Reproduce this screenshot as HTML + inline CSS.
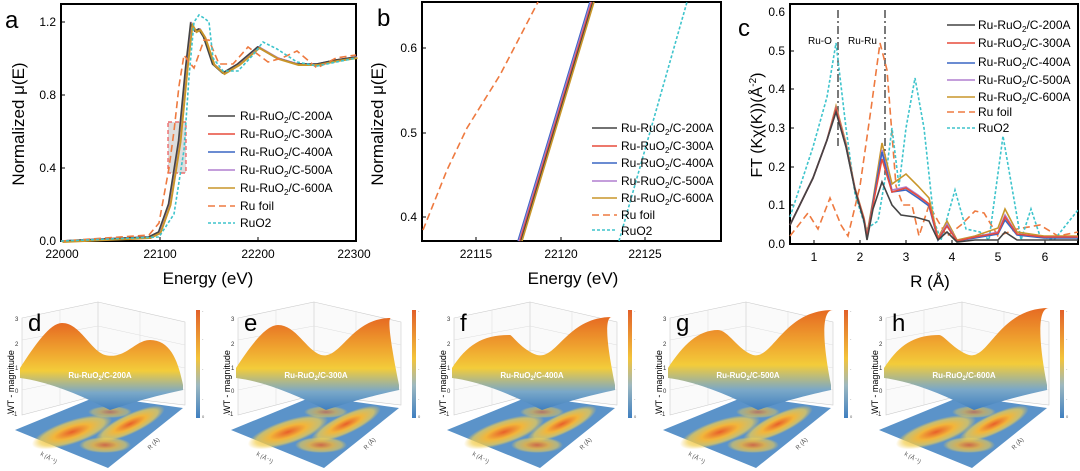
<!DOCTYPE html>
<html><head><meta charset="utf-8"><style>
body{margin:0;background:#fff;}
svg{display:block;font-family:"Liberation Sans",sans-serif;}
</style></head><body>
<svg id="s" width="1080" height="471" viewBox="0 0 1080 471" xmlns="http://www.w3.org/2000/svg">
<defs>
<linearGradient id="surf" x1="0" y1="0" x2="0" y2="1">
<stop offset="0" stop-color="#e66a22"/><stop offset="0.35" stop-color="#f0a830"/><stop offset="0.55" stop-color="#f3cc3a"/><stop offset="0.8" stop-color="#7aa8c8"/><stop offset="1" stop-color="#3f7fc0"/>
</linearGradient>
<linearGradient id="cb" x1="0" y1="0" x2="0" y2="1">
<stop offset="0" stop-color="#e2602a"/><stop offset="0.45" stop-color="#f3c43a"/><stop offset="0.7" stop-color="#9cb8c0"/><stop offset="1" stop-color="#3f7fc0"/>
</linearGradient>
<radialGradient id="blob"><stop offset="0" stop-color="#e8602a"/><stop offset="0.45" stop-color="#f2b53a"/><stop offset="0.8" stop-color="#f2cf50" stop-opacity="0.7"/><stop offset="1" stop-color="#f2c84a" stop-opacity="0"/></radialGradient>
</defs>
<!-- Panel a -->
<g fill="none" stroke-width="1.6">
<text x="5" y="28" font-size="24" fill="#000" stroke="none">a</text>
<rect x="61" y="4" width="295" height="237" stroke="#000" stroke-width="2"/>
<g font-size="12" fill="#000" stroke="none" text-anchor="end">
<text x="56" y="245">0.0</text><text x="56" y="172">0.4</text><text x="56" y="99">0.8</text><text x="56" y="26">1.2</text></g>
<g font-size="12" fill="#000" stroke="none" text-anchor="middle">
<text x="62" y="258">22000</text><text x="160" y="258">22100</text><text x="258" y="258">22200</text><text x="354" y="258">22300</text>
<text x="208" y="284" font-size="17">Energy (eV)</text>
<text transform="translate(24,124) rotate(-90)" font-size="17">Normalized μ(E)</text></g>
<g stroke="#000" stroke-width="1"><path d="M61 168h4M61 95h4M61 22h4M160 241v-4M258 241v-4"/></g>
<rect x="168" y="122" width="18" height="51" fill="#ddd" stroke="#e55" stroke-dasharray="4 3" stroke-width="1.2"/>
<path d="M61 241 L149 237 L159 232 L169 204 L179 141 L186 68 L191 24 L195 31 L199 29 L204 37 L213 64 L223 73 L238 64 L258 47 L277 58 L297 64 L317 64 L336 60 L356 57" stroke="#e74c3c"/>
<path d="M61 241 L149 237 L159 232 L169 204 L179 141 L186 68 L191 24 L195 31 L199 29 L204 37 L213 64 L223 73 L238 64 L258 47 L277 58 L297 64 L317 64 L336 60 L356 57" stroke="#3a66c4" transform="translate(0.5,0)"/>
<path d="M61 241 L149 237 L159 232 L169 204 L179 141 L186 68 L191 24 L195 31 L199 29 L204 37 L213 64 L223 73 L238 64 L258 47 L277 58 L297 64 L317 64 L336 60 L356 57" stroke="#b07fcf" transform="translate(1,0)"/>
<path d="M61 241 L149 237 L159 232 L169 204 L179 141 L186 68 L191 24 L195 31 L199 29 L204 37 L213 64 L223 73 L238 64 L258 47 L277 58 L297 64 L317 64 L336 60 L356 57" stroke="#444" transform="translate(-0.5,0)"/>
<path d="M61 241 L149 237 L159 232 L169 204 L179 141 L186 68 L191 24 L195 31 L199 29 L204 37 L213 64 L223 73 L238 64 L258 47 L277 58 L297 64 L317 64 L336 60 L356 57" stroke="#c9962a" stroke-width="2" transform="translate(1.5,1)"/>
<path d="M61 241 L149 235 L159 223 L169 168 L174 131 L179 86 L184 55 L189 62 L194 68 L204 40 L209 40 L219 64 L233 64 L248 47 L268 62 L282 58 L297 51 L317 68 L336 58 L356 55" stroke="#ee7a40" stroke-dasharray="7 4"/>
<path d="M61 241 L159 237 L174 214 L184 150 L189 77 L194 22 L199 15 L204 18 L209 22 L213 58 L223 71 L238 71 L253 55 L263 42 L277 49 L297 62 L317 66 L356 58" stroke="#3ec4cc" stroke-dasharray="3 2"/>
<g font-size="12" fill="#000" stroke="none">
<text x="240" y="120">Ru-RuO<tspan font-size="8" dy="3">2</tspan><tspan dy="-3">/C-200A</tspan></text>
<text x="240" y="138">Ru-RuO<tspan font-size="8" dy="3">2</tspan><tspan dy="-3">/C-300A</tspan></text>
<text x="240" y="156">Ru-RuO<tspan font-size="8" dy="3">2</tspan><tspan dy="-3">/C-400A</tspan></text>
<text x="240" y="174">Ru-RuO<tspan font-size="8" dy="3">2</tspan><tspan dy="-3">/C-500A</tspan></text>
<text x="240" y="192">Ru-RuO<tspan font-size="8" dy="3">2</tspan><tspan dy="-3">/C-600A</tspan></text>
<text x="240" y="210">Ru foil</text><text x="240" y="227">RuO2</text></g>
<path d="M208 116h27" stroke="#444"/><path d="M208 134h27" stroke="#e74c3c"/><path d="M208 152h27" stroke="#3a66c4"/><path d="M208 170h27" stroke="#b07fcf"/><path d="M208 188h27" stroke="#c9962a"/>
<path d="M208 206h27" stroke="#ee7a40" stroke-dasharray="7 4"/><path d="M208 223h27" stroke="#3ec4cc" stroke-dasharray="3 2"/>
</g>
<!-- Panel b -->
<g fill="none" stroke-width="1.6">
<text x="377" y="26" font-size="24" fill="#000" stroke="none">b</text>
<rect x="422" y="2" width="299" height="239" stroke="#000" stroke-width="2"/>
<g font-size="12" fill="#000" stroke="none" text-anchor="end"><text x="417" y="221">0.4</text><text x="417" y="137">0.5</text><text x="417" y="52">0.6</text></g>
<g font-size="12" fill="#000" stroke="none" text-anchor="middle"><text x="476" y="258">22115</text><text x="561" y="258">22120</text><text x="645" y="258">22125</text>
<text x="573" y="284" font-size="17">Energy (eV)</text>
<text transform="translate(383,124) rotate(-90)" font-size="17">Normalized μ(E)</text></g>
<g stroke="#000" stroke-width="1"><path d="M422 217h4M422 133h4M422 48h4M476 241v-4M561 241v-4M645 241v-4"/></g>
<path d="M518 241 L590 2" stroke="#3a66c4"/><path d="M519 241 L591 2" stroke="#b07fcf"/><path d="M520 241 L592 2" stroke="#e74c3c"/><path d="M521 241 L593 2" stroke="#444"/><path d="M522 241 L594 2" stroke="#c9962a"/>
<path d="M423 230 L447 170 L467 128 L500 75 L538 2" stroke="#ee7a40" stroke-dasharray="7 4"/>
<path d="M619 241 L687 2" stroke="#3ec4cc" stroke-dasharray="3 2"/>
<g font-size="12" fill="#000" stroke="none">
<text x="621" y="132">Ru-RuO<tspan font-size="8" dy="3">2</tspan><tspan dy="-3">/C-200A</tspan></text>
<text x="621" y="150">Ru-RuO<tspan font-size="8" dy="3">2</tspan><tspan dy="-3">/C-300A</tspan></text>
<text x="621" y="167">Ru-RuO<tspan font-size="8" dy="3">2</tspan><tspan dy="-3">/C-400A</tspan></text>
<text x="621" y="185">Ru-RuO<tspan font-size="8" dy="3">2</tspan><tspan dy="-3">/C-500A</tspan></text>
<text x="621" y="202">Ru-RuO<tspan font-size="8" dy="3">2</tspan><tspan dy="-3">/C-600A</tspan></text>
<text x="621" y="219">Ru foil</text><text x="621" y="235">RuO2</text></g>
<path d="M592 128h25" stroke="#444"/><path d="M592 146h25" stroke="#e74c3c"/><path d="M592 163h25" stroke="#3a66c4"/><path d="M592 181h25" stroke="#b07fcf"/><path d="M592 198h25" stroke="#c9962a"/>
<path d="M592 215h25" stroke="#ee7a40" stroke-dasharray="7 4"/><path d="M592 230h25" stroke="#3ec4cc" stroke-dasharray="3 2"/>
</g>
<!-- Panel c -->
<g fill="none" stroke-width="1.6">
<text x="738" y="36" font-size="24" fill="#000" stroke="none">c</text>
<rect x="790" y="4" width="288" height="240" stroke="#000" stroke-width="2"/>
<g font-size="12" fill="#000" stroke="none" text-anchor="end"><text x="785" y="248">0.0</text><text x="785" y="209">0.1</text><text x="785" y="171">0.2</text><text x="785" y="132">0.3</text><text x="785" y="93">0.4</text><text x="785" y="55">0.5</text><text x="785" y="16">0.6</text></g>
<g font-size="12" fill="#000" stroke="none" text-anchor="middle"><text x="814" y="261">1</text><text x="860" y="261">2</text><text x="906" y="261">3</text><text x="952" y="261">4</text><text x="998" y="261">5</text><text x="1045" y="261">6</text>
<text x="930" y="287" font-size="17">R (Å)</text>
<text transform="translate(762,125) rotate(-90)" font-size="16">FT (Kχ(K))(Å<tspan font-size="10" dy="-6">-2</tspan><tspan dy="6">)</tspan></text></g>
<g stroke="#000" stroke-width="1"><path d="M814 244v-4M860 244v-4M906 244v-4M952 244v-4M998 244v-4M1045 244v-4M790 205h4M790 167h4M790 128h4M790 89h4M790 51h4"/></g>
<path d="M838 10V148M885 10V175" stroke="#333" stroke-width="1.3" stroke-dasharray="8 3 2 3"/>
<g font-size="10" fill="#000" stroke="none"><text x="808" y="44">Ru-O</text><text x="848" y="44">Ru-Ru</text></g>
<path d="M790 236 L808 213 L818 229 L830 198 L841 225 L848 236 L860 186 L871 109 L880 43 L887 70 L896 186 L903 205 L912 205 L919 236 L929 205 L938 221 L947 236 L961 225 L975 211 L984 213 L998 236 L1017 229 L1040 225 L1058 236 L1078 232" stroke="#ee7a40" stroke-dasharray="7 4"/>
<path d="M790 217 L813 147 L827 97 L836 43 L846 128 L855 194 L866 229 L878 221 L887 167 L892 128 L899 186 L906 128 L915 78 L924 128 L934 221 L941 240 L955 190 L966 229 L980 232 L989 240 L1003 136 L1015 205 L1021 240 L1031 209 L1040 236 L1054 240 L1078 210" stroke="#3ec4cc" stroke-dasharray="3 2"/>
<path d="M790 225 L813 178 L827 140 L836 106 L846 143 L855 188 L864 218 L867 234 L873 200 L882 143 L892 184 L906 174 L918 186 L929 198 L938 238 L947 221 L957 240 L975 236 L998 228 L1005 209 L1017 232 L1044 236 L1078 236" stroke="#c9962a"/>
<path d="M790 225 L813 178 L827 140 L836 108 L846 145 L855 189 L864 219 L867 236 L873 204 L882 150 L892 190 L906 187 L918 195 L929 204 L938 239 L947 224 L957 241 L975 237 L998 232 L1005 215 L1017 234 L1044 237 L1078 237" stroke="#b07fcf"/>
<path d="M790 225 L813 178 L827 140 L836 110 L846 146 L855 189 L864 220 L867 238 L873 202 L882 152 L892 192 L906 190 L918 198 L929 206 L938 240 L947 226 L957 241 L975 238 L998 234 L1005 220 L1017 235 L1044 238 L1078 238" stroke="#3a66c4"/>
<path d="M790 225 L813 178 L827 140 L836 109 L846 146 L855 189 L864 219 L867 237 L873 205 L882 159 L892 192 L906 188 L918 196 L929 204 L938 239 L947 226 L957 241 L975 237 L998 233 L1005 217 L1017 234 L1044 237 L1078 237" stroke="#e74c3c"/>
<path d="M790 225 L813 178 L827 140 L836 112 L846 147 L855 190 L864 221 L867 240 L873 209 L882 182 L892 205 L901 215 L915 217 L929 221 L938 240 L947 232 L957 242 L975 240 L998 240 L1005 232 L1017 240 L1044 240 L1078 240" stroke="#444"/>
<g font-size="12" fill="#000" stroke="none">
<text x="978" y="29">Ru-RuO<tspan font-size="8" dy="3">2</tspan><tspan dy="-3">/C-200A</tspan></text>
<text x="978" y="47">Ru-RuO<tspan font-size="8" dy="3">2</tspan><tspan dy="-3">/C-300A</tspan></text>
<text x="978" y="66">Ru-RuO<tspan font-size="8" dy="3">2</tspan><tspan dy="-3">/C-400A</tspan></text>
<text x="978" y="84">Ru-RuO<tspan font-size="8" dy="3">2</tspan><tspan dy="-3">/C-500A</tspan></text>
<text x="978" y="101">Ru-RuO<tspan font-size="8" dy="3">2</tspan><tspan dy="-3">/C-600A</tspan></text>
<text x="978" y="116">Ru foil</text><text x="978" y="132">RuO2</text></g>
<path d="M947 25h28" stroke="#444"/><path d="M947 43h28" stroke="#e74c3c"/><path d="M947 63h28" stroke="#3a66c4"/><path d="M947 80h28" stroke="#b07fcf"/><path d="M947 97h28" stroke="#c9962a"/>
<path d="M947 112h28" stroke="#ee7a40" stroke-dasharray="7 4"/><path d="M947 128h28" stroke="#3ec4cc" stroke-dasharray="3 2"/>
</g>
<g id="bottom"></g>
</svg>
<script>
const L=['d','e','f','g','h'],N=['200A','300A','400A','500A','600A'];
const peaks=[[62,323,150,340],[62,325,175,318],[78,335,180,317],[70,330,185,310],[75,335,185,308]];
let h='';
for(let i=0;i<5;i++){const o=i*216,p=peaks[i];
h+=`<g transform="translate(${o},0)">
<path d="M22 318 L98 302 L98 395 L22 415 Z M98 302 L185 322 L185 405 L98 395" fill="#fafafa" stroke="#ccc" stroke-width="0.6"/>
<path d="M22 340 L98 326 L185 345 M22 365 L98 350 L185 368 M22 390 L98 374 L185 390 M60 310 V405 M140 311 V400" fill="none" stroke="#ddd" stroke-width="0.5"/>
<path d="M15 430 L98 396 L183 408 L108 468 Z" fill="#5b93c9"/>
<ellipse cx="72" cy="432" rx="42" ry="12" fill="url(#blob)" transform="rotate(-18 72 432)"/>
<ellipse cx="130" cy="424" rx="38" ry="10" fill="url(#blob)" transform="rotate(-25 130 424)"/>
<ellipse cx="105" cy="445" rx="26" ry="8" fill="url(#blob)" opacity="0.8"/>
<ellipse cx="110" cy="412" rx="22" ry="6" fill="url(#blob)" opacity="0.6"/>
<path d="M20 368 C35 345 50 ${p[1]} ${p[0]} ${p[1]} C80 ${p[1]} 90 350 105 355 C125 360 135 ${p[3]} ${p[2]} ${p[3]} C170 ${p[3]} 178 360 183 385 L183 390 C160 395 140 400 110 410 C80 395 50 382 20 378 Z" fill="url(#surf)"/>
<text x="100" y="378" font-size="8" font-weight="bold" fill="#fff" text-anchor="middle">Ru-RuO<tspan font-size="6" dy="2">2</tspan><tspan dy="-2">/C-${N[i]}</tspan></text>
<text x="28" y="331" font-size="24">${L[i]}</text>
<text transform="translate(14,382) rotate(-90)" font-size="9" text-anchor="middle">WT - magnitude</text>
<g font-size="6" fill="#333"><text x="15" y="321">3</text><text x="15" y="346">2</text><text x="15" y="370">1</text><text x="15" y="393">0</text><text x="12" y="416">-1</text></g>
<rect x="196" y="310" width="4" height="108" fill="url(#cb)"/>
<g font-size="4" fill="#555"><text x="202" y="312">-</text><text x="202" y="340">-</text><text x="202" y="370">-</text><text x="202" y="400">-</text><text x="202" y="418">0</text></g>
<g font-size="6" fill="#555"><text transform="translate(40,455) rotate(30)">k (Å⁻¹)</text><text transform="translate(150,450) rotate(-45)">R (Å)</text></g>
</g>`;}
document.getElementById('bottom').innerHTML=h;
</script>
</body></html>
